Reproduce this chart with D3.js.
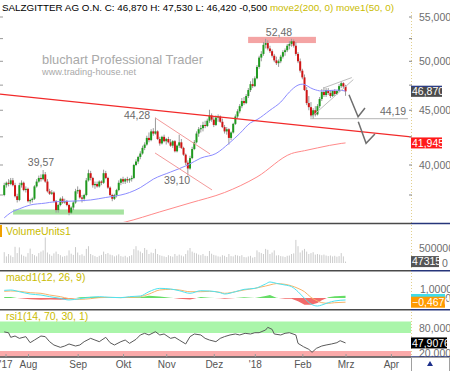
<!DOCTYPE html>
<html>
<head>
<meta charset="utf-8">
<script src="https://cdn.jsdelivr.net/npm/d3@7"></script>
<style>
  body { margin: 0; background: #fff; }
  svg { display: block; font-family: "Liberation Sans", Arial, sans-serif; }
</style>
</head>
<body>
<div id="chart"></div>
<script>
// ---- data (x = trading-day index, 0 = 1 Aug 2017) ----
const firstDay = -11
// [open, high, low, close]
const candles = [
  [37.5,38.5,37.4,38.3],[38.3,38.6,38.1,38.5],[38.5,38.8,38.2,38.4],[38.4,38.9,38.3,38.7],[38.7,38.9,38.2,38.3],
  [38.3,38.5,37.3,37.4],[37.4,37.6,36.9,37.1],[37.1,38.5,37.0,38.3],[38.3,38.7,38.1,38.5],[38.5,38.6,37.8,37.9],
  [37.9,38.2,37.7,38.0],[38.0,38.1,36.9,37.0],[37.0,37.2,36.8,37.1],[37.1,37.3,36.9,37.2],[37.2,38.3,37.1,38.2],
  [38.2,38.8,38.1,38.6],[38.6,39.1,38.5,38.9],[38.9,39.2,38.6,38.8],[38.8,39.57,38.7,39.2],[39.2,39.4,38.5,38.6],
  [38.6,38.8,37.7,37.8],[37.8,38.0,37.5,37.6],[37.6,37.9,37.5,37.7],[37.7,37.8,36.9,37.0],[37.0,37.1,36.1,36.3],
  [36.3,36.8,36.1,36.7],[36.7,37.3,36.6,37.2],[37.2,37.4,36.8,36.9],[36.9,37.2,36.8,37.0],[37.0,37.1,36.6,36.7],
  [36.7,36.8,35.9,36.1],[36.1,36.6,36.0,36.5],[36.5,37.0,36.3,36.9],[36.9,38.0,36.8,37.8],[37.8,38.2,37.6,37.9],
  [37.9,38.0,37.2,37.3],[37.3,37.5,36.9,37.2],[37.2,37.6,37.0,37.5],[37.5,38.9,37.4,38.7],[38.7,39.6,38.6,39.3],
  [39.3,39.5,38.7,38.9],[38.9,39.0,38.1,38.3],[38.3,38.6,38.0,38.4],[38.4,38.6,38.1,38.2],[38.2,38.7,38.1,38.6],
  [38.6,38.7,38.3,38.5],[38.5,39.6,38.4,39.3],[39.3,39.5,38.8,38.9],[38.9,39.0,38.0,38.1],[38.1,38.2,37.4,37.5],
  [37.5,37.6,37.0,37.2],[37.2,37.6,37.1,37.5],[37.5,38.0,37.3,37.9],[37.9,38.7,37.8,38.5],[38.5,38.9,38.3,38.8],
  [38.8,39.0,38.4,38.6],[38.6,38.9,38.4,38.8],[38.8,39.0,38.5,38.7],[38.7,38.9,38.5,38.8],[38.8,39.1,38.6,38.9],
  [38.9,40.1,38.8,40.0],[40.0,40.5,39.9,40.3],[40.3,40.8,40.1,40.7],[40.7,41.2,40.5,41.0],[41.0,41.7,40.9,41.5],
  [41.5,42.0,41.3,41.8],[41.8,42.6,41.7,42.4],[42.4,42.9,42.0,42.2],[42.2,43.2,42.1,43.0],[43.0,43.3,42.6,42.8],
  [42.8,44.28,42.7,43.0],[43.0,43.1,42.2,42.3],[42.3,42.5,41.7,41.9],[41.9,42.6,41.8,42.5],[42.5,42.7,42.0,42.1],
  [42.1,42.4,41.8,42.3],[42.3,42.5,41.9,42.0],[42.0,42.3,41.6,41.7],[41.7,42.2,41.5,42.1],[42.1,42.2,41.1,41.2],
  [41.2,41.8,41.1,41.7],[41.7,42.7,41.5,42.0],[42.0,42.3,41.4,41.5],[41.5,41.6,40.8,40.9],[40.9,41.0,40.0,40.2],
  [40.2,40.4,39.1,39.7],[39.7,40.8,39.6,40.6],[40.6,41.6,40.5,41.4],[41.4,42.2,41.3,42.0],[42.0,43.0,41.9,42.8],
  [42.8,43.4,42.5,43.2],[43.2,43.6,42.9,43.3],[43.3,43.9,43.0,43.6],[43.6,44.0,43.3,43.5],[43.5,44.2,43.4,44.0],
  [44.0,45.05,43.8,44.5],[44.5,44.7,43.9,44.1],[44.1,44.4,43.4,43.6],[43.6,44.5,43.5,44.3],[44.3,44.6,43.9,44.4],
  [44.4,44.5,43.8,43.9],[43.9,44.2,43.3,43.4],[43.4,43.6,42.8,43.0],[43.0,43.4,42.7,43.2],[43.2,43.3,41.8,42.4],
  [42.4,43.0,42.2,42.9],[42.9,43.8,42.8,43.7],[43.7,44.6,43.6,44.4],[44.4,45.1,44.2,44.9],[44.9,45.6,44.7,45.4],
  [45.4,46.2,45.2,45.9],[45.9,46.3,45.5,45.7],[45.7,46.6,45.6,46.4],[46.4,47.2,46.2,47.0],[47.0,47.9,46.8,47.6],
  [47.6,48.2,47.2,47.4],[47.4,48.4,47.3,48.2],[48.2,49.6,48.1,49.4],[49.4,50.6,49.2,50.4],[50.4,51.1,50.0,50.8],
  [50.8,52.1,50.6,51.8],[51.8,52.48,51.4,52.0],[52.0,52.3,51.2,51.4],[51.4,51.7,50.9,51.1],[51.1,51.3,50.4,50.6],
  [50.6,50.8,49.9,50.1],[50.1,50.5,49.6,49.8],[49.8,50.2,49.4,50.0],[50.0,50.7,49.8,50.5],[50.5,51.2,50.3,51.0],
  [51.0,51.4,50.6,51.2],[51.2,51.9,51.0,51.7],[51.7,52.2,51.3,51.9],[51.9,52.48,51.6,52.2],[52.2,52.4,51.5,51.7],
  [51.7,52.1,50.6,50.8],[50.8,51.0,49.8,50.0],[50.0,50.3,48.8,49.0],[49.0,49.2,48.1,48.3],[48.3,48.6,46.9,47.0],
  [47.0,47.3,45.5,45.7],[45.7,46.4,45.0,45.3],[45.3,45.8,44.3,44.5],[44.5,45.2,44.19,45.0],[45.0,45.4,44.4,44.6],
  [44.6,45.6,44.5,45.4],[45.4,46.3,45.2,46.1],[46.1,47.1,45.9,46.8],[46.8,47.3,46.3,46.5],[46.5,47.2,46.3,47.0],
  [47.0,47.2,46.5,46.7],[46.7,47.0,46.2,46.4],[46.4,47.0,46.3,46.9],[46.9,47.1,46.4,46.6],[46.6,47.0,46.5,46.9],
  [46.9,47.6,46.8,47.4],[47.4,47.9,47.2,47.7],[47.7,47.8,47.2,47.37],[47.37,47.53,46.42,46.87]
]

// volume in thousands of shares
const volumesK = [
  360,220,300,250,200,540,330,520,280,240,
  210,330,480,300,260,220,330,380,420,850,
  350,290,240,320,380,300,260,210,230,250,
  420,310,270,530,350,260,290,240,470,560,
  300,260,230,200,240,270,380,300,330,280,
  260,220,250,290,230,210,240,190,230,260,
  460,560,420,380,330,500,440,300,350,330,
  470,300,260,240,220,200,260,230,210,300,
  240,280,250,220,300,420,500,380,340,320,
  280,260,300,240,230,400,310,270,250,220,
  210,260,240,200,300,230,220,270,250,230,
  260,200,190,220,240,180,200,420,360,330,
  300,470,440,300,350,420,250,260,230,220,
  200,240,250,300,320,770,560,350,420,470,
  380,300,330,360,280,300,280,260,280,250,
  230,250,220,240,210,230,330,220,47.315
]

const ma50 = [
  [-11,35.7],[-8,36.1],[-4,36.4],[1,36.7],[8,36.85],[12,36.95],[19,37.0],[29,37.1],[36,37.3],[43,37.5],
  [47,37.7],[52,38.1],[58,38.8],[66,39.4],[74,40.0],[80,40.6],[87,41.0],[93,41.9],[98,42.8],[103,43.8],
  [106,44.1],[112,45.0],[117,45.8],[121,46.8],[125,47.5],[127,47.6],[132,47.1],[136,46.9],[143,47.0],[147,46.9]
]
const ma200 = [
  [40,35.2],[45,35.38],[61,36.16],[75,36.86],[91,37.7],[106,38.98],[122,41.0],[128,41.25],[134,41.5],[145,41.9],[147,41.945]
]

// [day, macd, signal]
const macdData = [
  [-11,0.85,0.74],[-8,0.89,0.78],[-4,0.70,0.74],[1,0.44,0.59],[6,0.33,0.52],[10,0.15,0.33],[15,-0.04,0.15],
  [19,-0.22,-0.07],[24,-0.07,-0.15],[29,0.07,-0.07],[33,0.15,0.04],[38,0.07,0.07],[43,0.04,0.04],[47,0.15,0.07],
  [52,0.22,0.15],[56,0.70,0.44],[61,1.07,0.89],[66,1.0,0.96],[70,0.81,0.89],[75,0.52,0.70],[80,0.81,0.70],
  [84,0.78,0.74],[89,0.59,0.63],[91,0.44,0.52],[96,0.70,0.70],[100,0.96,0.89],[105,1.07,1.07],[110,1.56,1.33],
  [112,1.78,1.45],[115,1.63,1.60],[119,1.44,1.52],[122,1.26,1.35],[125,0.70,1.07],[128,-0.04,0.70],
  [131,-0.67,0.07],[134,-0.89,-0.33],[136,-0.78,-0.52],[139,-0.52,-0.59],[142,-0.33,-0.52],[147,-0.22,-0.467]
]

const rsiData = [
  [-11,72.5],[-9,70.5],[-8,60.4],[-6,63.3],[-4,58.1],[-1,61.9],[1,48.5],[3,54.4],[6,63.3],[8,61.9],
  [10,50.7],[12,43.3],[15,38.1],[17,41.1],[19,45.6],[22,41.1],[24,43.3],[26,50.7],[29,58.1],[31,54.4],
  [33,50.7],[36,60.4],[38,48.5],[40,43.3],[43,50.7],[45,54.4],[47,47.0],[50,55.9],[52,65.6],[54,69.3],
  [56,65.6],[59,72.9],[61,65.6],[63,67.8],[66,58.1],[68,60.4],[70,54.4],[73,45.6],[75,61.9],[77,67.8],
  [80,65.6],[82,58.1],[84,54.4],[87,50.7],[89,58.1],[91,62],[93.5,65.6],[96,67.8],[98,65.6],[100.5,69.3],
  [103,67.8],[105,70.7],[107,70.7],[110,76.7],[111,82.6],[113,78.1],[114,67.8],[117,65.6],[119,69.3],
  [121,70.7],[124,65.6],[125,47.0],[127.5,39.6],[130,33.7],[131.5,27.1],[133.5,35.9],[136,41.1],[138,43.3],
  [140.5,45.6],[143,48.5],[144.5,52.9],[147,47.9076]
]

const monthTicks = [-10.4, 0, 23, 44, 64, 86, 105, 127, 147, 168]
const monthLabels = ["'17", "Aug", "Sep", "Okt", "Nov", "Dez", "'18", "Feb", "Mrz", "Apr"]
const priceTicks = [40, 45, 50, 55]
const priceMinorTicks = [37.5, 40, 42.5, 45, 47.5, 50, 52.5, 55]

// drawn annotations, in [day, price]
const resistanceLine = [[-12.96, 46.6], [177.3, 42.49]]
const channelUpper = [[58.8, 44.28], [84.3, 40.96]]
const channelLower = [[58.8, 41.05], [85.2, 37.91]]
const wedgeLower = [[131.3, 44.37], [150.6, 48.07]]
const wedgeUpper = [[136.7, 47.2], [149.9, 48.28]]
const arrowOne = [[148.6, 46.53], [152.8, 44.37], [156, 45.22]]
const arrowTwo = [[152.9, 43.91], [156.5, 41.91], [160.6, 42.76]]
const supportLine = [[130.6, 44.19], [175.9, 44.19]]
const greenZone = {from: -6.9, to: 44.4, low: 35.95, high: 36.35}
const redZone = {from: 101.9, to: 133.3, low: 52.0, high: 52.7}
const priceLabels = [
  {day: 6, price: 39.91, text: "39,57"},
  {day: 50.5, price: 44.16, text: "44,28"},
  {day: 69, price: 38.4, text: "39,10"},
  {day: 116.2, price: 52.8, text: "52,48"},
  {day: 169, price: 44.54, text: "44,19"},
]

// ---- layout ----
let dimensions = {
  width: 450,
  height: 371,
  plotRight: 411,
  main: {top: 12, bottom: 222},
  volume: {top: 225, bottom: 270},
  macd: {top: 272, bottom: 309},
  rsi: {top: 321.5, bottom: 356.5},
}

const de = d3.formatLocale({decimal: ",", thousands: ".", grouping: [3], currency: ["", ""]})
const f3 = de.format(".3f")
const f4 = de.format(".4f")

const wrapper = d3.select("#chart")
  .append("svg")
    .attr("width", dimensions.width)
    .attr("height", dimensions.height)

const defs = wrapper.append("defs")
function addClip(id, top, bottom) {
  defs.append("clipPath").attr("id", id)
    .append("rect")
      .attr("x", 0).attr("y", top)
      .attr("width", dimensions.plotRight).attr("height", bottom - top)
  return wrapper.append("g").attr("clip-path", `url(#${id})`)
}

// ---- scales ----
const xScale = d3.scaleLinear().domain([-12.96, 177.3]).range([0, dimensions.plotRight])
const yPrice = d3.scaleLog().domain([40, 55]).range([165, 17])
const yVol = d3.scaleLinear().domain([0, 500000]).range([263, 248])
const yMacd = d3.scaleLinear().domain([0, 1]).range([298, 289])
const yRsi = d3.scaleLinear().domain([30, 70]).range([351, 333])

const candleData = candles.map((d, k) => ({day: firstDay + k, o: d[0], h: d[1], l: d[2], c: d[3]}))

const yellow = "#c9bb00"
const axisGrey = "#6e6e6e"

// ---- title & watermark ----
const title = wrapper.append("text")
    .attr("x", 2).attr("y", 11)
    .attr("font-size", 9.3)
    .attr("textLength", 392)
    .attr("lengthAdjust", "spacingAndGlyphs")
title.append("tspan").attr("fill", "#000")
    .text("SALZGITTER AG O.N. C: 46,870 H: 47,530 L: 46,420 -0,500")
title.append("tspan").attr("fill", yellow)
    .text(" move2(200, 0) move1(50, 0)")

wrapper.append("text")
    .attr("x", 42).attr("y", 64)
    .attr("font-size", 13)
    .attr("fill", "#a9a9a9")
    .attr("textLength", 161)
    .attr("lengthAdjust", "spacingAndGlyphs")
    .text("bluchart Professional Trader")
wrapper.append("text")
    .attr("x", 42).attr("y", 75)
    .attr("font-size", 9.2)
    .attr("fill", "#a9a9a9")
    .attr("textLength", 94)
    .text("www.trading-house.net")

// ---- main panel ----
const main = addClip("main-clip", dimensions.main.top, dimensions.main.bottom)

main.append("rect")
    .attr("x", xScale(greenZone.from))
    .attr("width", xScale(greenZone.to) - xScale(greenZone.from))
    .attr("y", yPrice(greenZone.high))
    .attr("height", yPrice(greenZone.low) - yPrice(greenZone.high))
    .attr("fill", "#a6e3a0")
main.append("rect")
    .attr("x", xScale(redZone.from))
    .attr("width", xScale(redZone.to) - xScale(redZone.from))
    .attr("y", yPrice(redZone.high))
    .attr("height", yPrice(redZone.low) - yPrice(redZone.high))
    .attr("fill", "#f4a4a4")

const lineGenerator = d3.line()
  .x(d => xScale(d[0]))
  .y(d => yPrice(d[1]))

main.append("path")
    .attr("d", lineGenerator(supportLine))
    .attr("fill", "none").attr("stroke", "#b4b4b4").attr("stroke-width", 1)

const candleG = main.append("g")
candleG.selectAll("line")
  .data(candleData)
  .join("line")
    .attr("x1", d => xScale(d.day))
    .attr("x2", d => xScale(d.day))
    .attr("y1", d => yPrice(d.h))
    .attr("y2", d => yPrice(d.l))
    .attr("stroke", "#9a9a9a")
    .attr("stroke-width", 1)
candleG.selectAll("rect")
  .data(candleData)
  .join("rect")
    .attr("x", d => xScale(d.day) - 1)
    .attr("width", 2)
    .attr("y", d => yPrice(Math.max(d.o, d.c)))
    .attr("height", d => Math.max(1, Math.abs(yPrice(d.o) - yPrice(d.c))))
    .attr("fill", d => d.c >= d.o ? "#1f9a1f" : "#cf1515")

const maLine = d3.line()
  .x(d => xScale(d[0]))
  .y(d => yPrice(d[1]))
  .curve(d3.curveMonotoneX)

main.append("path")
    .attr("d", maLine(ma200))
    .attr("fill", "none").attr("stroke", "#ff8a8a").attr("stroke-width", 1)
main.append("path")
    .attr("d", maLine(ma50))
    .attr("fill", "none").attr("stroke", "#8c8cff").attr("stroke-width", 1)

main.append("path")
    .attr("d", lineGenerator(resistanceLine))
    .attr("fill", "none").attr("stroke", "#f22a2a").attr("stroke-width", 1.3)
;[channelUpper, channelLower].forEach(seg => {
  main.append("path")
      .attr("d", lineGenerator(seg))
      .attr("fill", "none").attr("stroke", "#f39a9a").attr("stroke-width", 1)
})
;[wedgeLower, wedgeUpper].forEach(seg => {
  main.append("path")
      .attr("d", lineGenerator(seg))
      .attr("fill", "none").attr("stroke", "#bdbdbd").attr("stroke-width", 1)
})
;[arrowOne, arrowTwo].forEach(seg => {
  main.append("path")
      .attr("d", lineGenerator(seg))
      .attr("fill", "none").attr("stroke", "#6f6f6f").attr("stroke-width", 1.5)
})

main.selectAll(".price-label")
  .data(priceLabels)
  .join("text")
    .attr("class", "price-label")
    .attr("x", d => xScale(d.day))
    .attr("y", d => yPrice(d.price))
    .attr("text-anchor", "middle")
    .attr("font-size", 10.5)
    .attr("fill", "#6a6a6a")
    .text(d => d.text)

// left edge ticks
wrapper.append("g").selectAll("line")
  .data(priceMinorTicks)
  .join("line")
    .attr("x1", 0).attr("x2", 3)
    .attr("y1", d => yPrice(d)).attr("y2", d => yPrice(d))
    .attr("stroke", "#999")

// ---- volume panel ----
const vol = addClip("vol-clip", dimensions.volume.top, dimensions.volume.bottom)
vol.selectAll("line")
  .data(candleData)
  .join("line")
    .attr("x1", d => xScale(d.day))
    .attr("x2", d => xScale(d.day))
    .attr("y1", yVol(0))
    .attr("y2", (d, k) => yVol(volumesK[k] * 1000))
    .attr("stroke", "#cbcbcb")
    .attr("stroke-width", 1)

// ---- macd panel ----
const macd = addClip("macd-clip", dimensions.macd.top, dimensions.macd.bottom)
defs.append("clipPath").attr("id", "macd-pos")
  .append("rect").attr("x", 0).attr("y", dimensions.macd.top)
    .attr("width", dimensions.plotRight).attr("height", yMacd(0) - dimensions.macd.top)
defs.append("clipPath").attr("id", "macd-neg")
  .append("rect").attr("x", 0).attr("y", yMacd(0))
    .attr("width", dimensions.plotRight).attr("height", dimensions.macd.bottom - yMacd(0))

const histArea = d3.area()
  .x(d => xScale(d[0]))
  .y0(yMacd(0))
  .y1(d => yMacd(d[1] - d[2]))
macd.append("path")
    .attr("d", histArea(macdData))
    .attr("fill", "#66dd66")
    .attr("clip-path", "url(#macd-pos)")
macd.append("path")
    .attr("d", histArea(macdData))
    .attr("fill", "#f26b6b")
    .attr("clip-path", "url(#macd-neg)")

macd.append("path")
    .attr("d", d3.line().x(d => xScale(d[0])).y(d => yMacd(d[2])).curve(d3.curveMonotoneX)(macdData))
    .attr("fill", "none").attr("stroke", "#f7b46a").attr("stroke-width", 1)
macd.append("path")
    .attr("d", d3.line().x(d => xScale(d[0])).y(d => yMacd(d[1])).curve(d3.curveMonotoneX)(macdData))
    .attr("fill", "none").attr("stroke", "#4fe3f0").attr("stroke-width", 1)

// ---- rsi panel ----
const rsi = addClip("rsi-clip", dimensions.rsi.top, dimensions.rsi.bottom)
rsi.append("rect")
    .attr("x", 0).attr("width", dimensions.plotRight)
    .attr("y", yRsi(100)).attr("height", yRsi(70) - yRsi(100))
    .attr("fill", "#aaf5aa")
rsi.append("rect")
    .attr("x", 0).attr("width", dimensions.plotRight)
    .attr("y", yRsi(30)).attr("height", yRsi(0) - yRsi(30))
    .attr("fill", "#fbaaaa")
rsi.append("path")
    .attr("d", d3.line().x(d => xScale(d[0])).y(d => yRsi(d[1]))(rsiData))
    .attr("fill", "none").attr("stroke", "#5a5a5a").attr("stroke-width", 1)

// ---- panel labels ----
const panelLabels = [
  {text: "VolumeUnits1", y: 235},
  {text: "macd1(12, 26, 9)", y: 281},
  {text: "rsi1(14, 70, 30, 1)", y: 320},
]
wrapper.selectAll(".panel-label")
  .data(panelLabels)
  .join("text")
    .attr("class", "panel-label")
    .attr("x", 6).attr("y", d => d.y)
    .attr("font-size", 10.5)
    .attr("fill", yellow)
    .text(d => d.text)
wrapper.append("rect")
    .attr("x", 0).attr("y", 225).attr("width", 2).attr("height", 12)
    .attr("fill", "#f0a000")

// ---- right axis area ----
wrapper.append("line")
    .attr("x1", dimensions.plotRight + 0.5).attr("x2", dimensions.plotRight + 0.5)
    .attr("y1", 12).attr("y2", 357)
    .attr("stroke", "#e2d08e").attr("stroke-dasharray", "1,2")

wrapper.append("g").selectAll("line")
  .data(priceMinorTicks)
  .join("line")
    .attr("x1", dimensions.plotRight - 2).attr("x2", dimensions.plotRight + 1)
    .attr("y1", d => yPrice(d)).attr("y2", d => yPrice(d))
    .attr("stroke", "#888")

const yAxisGenerator = d3.axisRight(yPrice)
  .tickValues(priceTicks)
  .tickFormat(f3)
  .tickSize(0)
  .tickPadding(8)
const yAxis = wrapper.append("g")
    .attr("transform", `translate(${dimensions.plotRight}, 0)`)
    .call(yAxisGenerator)
yAxis.select(".domain").remove()
yAxis.selectAll("text").attr("fill", axisGrey).attr("font-size", 10.5).attr("font-family", "Liberation Sans, Arial, sans-serif")

function axisText(x, y, text) {
  wrapper.append("text")
      .attr("x", x).attr("y", y)
      .attr("dy", "0.35em")
      .attr("font-size", 10.5)
      .attr("fill", axisGrey)
      .text(text)
}
axisText(419, yVol(500000), "500000")
axisText(442, yVol(0), "0")
axisText(420, yMacd(1), f4(1))
axisText(419, yMacd(0), f4(0))
axisText(419, yRsi(80), f4(80))
axisText(419, yRsi(20) - 2, f4(20))

function valueBox(y, text, fill, width, topColor) {
  const g = wrapper.append("g")
  g.append("rect")
      .attr("x", dimensions.plotRight).attr("y", y - 5.5)
      .attr("width", width).attr("height", 11)
      .attr("fill", fill)
  if (topColor) {
    g.append("rect")
        .attr("x", dimensions.plotRight).attr("y", y - 5.5)
        .attr("width", width).attr("height", 1)
        .attr("fill", topColor)
  }
  if (text) {
    g.append("text")
        .attr("x", dimensions.plotRight + 1).attr("y", y)
        .attr("dy", "0.35em")
        .attr("font-size", 10.5)
        .attr("fill", "#fff")
        .text(text)
  }
}
const lastCandle = candleData[candleData.length - 1]
const lastMacd = macdData[macdData.length - 1]
const lastRsi = rsiData[rsiData.length - 1]
valueBox(yPrice(lastCandle.c), f3(lastCandle.c), "#4b4b4b", 31, "#283c96")
valueBox(yPrice(ma200[ma200.length - 1][1]), f3(ma200[ma200.length - 1][1]), "#ff1a1a", 31)
valueBox(yVol(volumesK[volumesK.length - 1] * 1000), Math.round(volumesK[volumesK.length - 1] * 1000), "#555", 28)
valueBox(yMacd(lastMacd[1]) - 0.5, null, "#41dcea", 34)
valueBox(yMacd(lastMacd[2]), f4(lastMacd[2]), "#ff9a00", 34)
valueBox(yRsi(lastRsi[1]), f4(lastRsi[1]), "#000", 36)

// ---- separators ----
const separators = [223.5, 270.8, 309.8, 357]
separators.forEach(y => {
  wrapper.append("line")
      .attr("x1", 0).attr("x2", dimensions.plotRight)
      .attr("y1", y).attr("y2", y)
      .attr("stroke", "#4a4a4a").attr("stroke-width", 1.4)
  wrapper.append("line")
      .attr("x1", dimensions.plotRight).attr("x2", dimensions.width)
      .attr("y1", y).attr("y2", y)
      .attr("stroke", "#26357a").attr("stroke-width", 1.4)
})

// ---- x axis ----
const xAxisGenerator = d3.axisBottom(xScale)
  .tickValues(monthTicks)
  .tickFormat((d, k) => monthLabels[k])
  .tickSizeInner(-3)
  .tickSizeOuter(0)
  .tickPadding(3.5)
const xAxis = wrapper.append("g")
    .attr("transform", "translate(0, 357)")
    .call(xAxisGenerator)
xAxis.select(".domain").remove()
xAxis.selectAll("line").attr("stroke", "#9a9a9a")
xAxis.selectAll("text").attr("fill", "#555").attr("font-size", 10).attr("font-family", "Liberation Sans, Arial, sans-serif")

// corner box
wrapper.append("rect")
    .attr("x", dimensions.plotRight + 0.5).attr("y", 357.5)
    .attr("width", 38).attr("height", 14)
    .attr("fill", "#fff").attr("stroke", "#a0a0a0")
wrapper.append("path")
    .attr("d", "M427,366 L430,361 L433,366 Z")
    .attr("fill", "#1c2f8a")
</script>
</body>
</html>
